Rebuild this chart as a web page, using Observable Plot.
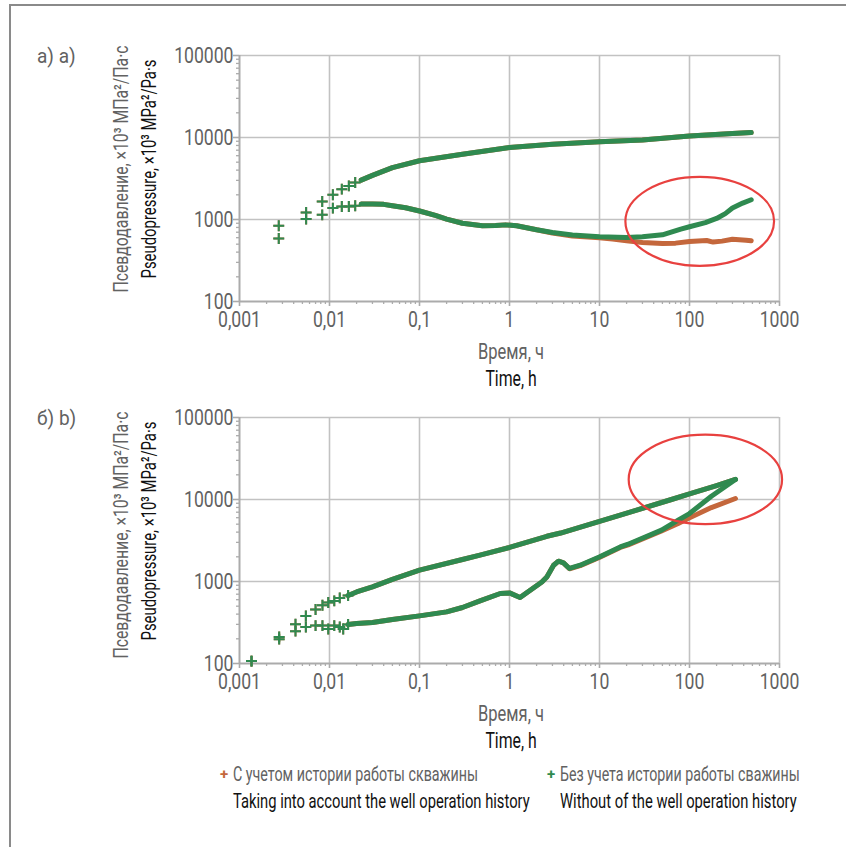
<!DOCTYPE html>
<html><head><meta charset="utf-8">
<script src="https://cdn.jsdelivr.net/npm/d3@7"></script>
<script src="https://cdn.jsdelivr.net/npm/@observablehq/plot@0.6"></script>
<style>
html,body{margin:0;padding:0;background:#fff;}
#fig{position:relative;width:846px;height:847px;overflow:hidden;background:#fff;font-family:Roboto,"Liberation Sans",sans-serif;}
.abs{position:absolute;white-space:nowrap;line-height:1;}
.gray{color:#626262;}
.blk{color:#111;}
#fig svg{position:absolute;left:0;}
.frameL{position:absolute;left:9px;top:5px;width:2px;height:842px;background:#8a8a8a;}
.frameT{position:absolute;left:9px;top:4px;width:837px;height:2px;background:#8a8a8a;}
</style></head>
<body><div id="fig"></div>
<script>
// ---------- axis ticks ----------
const xTickValues = [0.001, 0.01, 0.1, 1, 10, 100, 1000];
const xTickLabels = ["0,001", "0,01", "0,1", "1", "10", "100", "1000"];
const yTickValues = [100, 1000, 10000, 100000];
const yTickLabels = ["100", "1000", "10000", "100000"];

// ---------- panel a ----------
const aEarlyT      = [0.00273, 0.0055, 0.0083, 0.0109, 0.0137, 0.0164, 0.0193];
const aEarlyPress  = [838, 1216, 1660, 2000, 2345, 2570, 2825];
const aEarlyDeriv  = [586, 1012, 1140, 1377, 1442, 1442, 1469];

const aPressT = [0.0225, 0.03, 0.05, 0.1, 0.3, 1, 3, 10, 30, 100, 300, 485];
const aPress  = [3020, 3450, 4300, 5200, 6250, 7550, 8300, 8900, 9300, 10450, 11200, 11500];

const aDerivGreenT = [0.0225, 0.03, 0.04, 0.05, 0.07, 0.1, 0.15, 0.2, 0.3, 0.5, 0.7, 0.9, 1.2, 1.5, 2, 3, 5, 10, 20, 30, 50, 80, 100, 150, 200, 250, 300, 390, 485];
const aDerivGreen  = [1541, 1550, 1530, 1470, 1390, 1270, 1120, 1010, 900, 840, 845, 860, 840, 800, 750, 695, 646, 615, 604, 615, 650, 764, 815, 918, 1030, 1180, 1380, 1585, 1740];

const aDerivOrangeT = [0.0225, 0.03, 0.04, 0.05, 0.07, 0.1, 0.15, 0.2, 0.3, 0.5, 0.7, 0.9, 1.2, 1.5, 2, 3, 5, 10, 14, 20, 30, 50, 70, 100, 155, 183, 230, 300, 426, 485];
const aDerivOrange  = [1541, 1550, 1530, 1470, 1390, 1270, 1120, 1010, 900, 840, 845, 860, 840, 800, 750, 685, 630, 598, 577, 550, 525, 510, 515, 540, 555, 530, 545, 575, 560, 550];

// ---------- panel b ----------
const bEarlyPressT = [0.00136, 0.00276, 0.00419, 0.00546, 0.0070, 0.00835, 0.00969, 0.0113, 0.013, 0.0161];
const bEarlyPress  = [107, 211, 301, 380, 456, 514, 554, 580, 631, 675];
const bEarlyDerivT = [0.00136, 0.00276, 0.00419, 0.00546, 0.0070, 0.00835, 0.00969, 0.0113, 0.013, 0.0142, 0.0161];
const bEarlyDeriv  = [107, 198, 248, 279, 290, 290, 264, 290, 279, 264, 299];

const bPressT = [0.0161, 0.02, 0.03, 0.05, 0.1, 0.3, 0.47, 1, 2.6, 3.7, 10, 17, 63, 100, 200, 324];
const bPress  = [675, 745, 860, 1060, 1374, 1854, 2094, 2600, 3560, 3900, 5400, 6440, 10000, 11700, 14800, 17540];

const bDerivGreenT = [0.0161, 0.02, 0.03, 0.05, 0.1, 0.2, 0.3, 0.47, 0.79, 1, 1.31, 1.7, 2.29, 2.6, 3.09, 3.5, 3.98, 4.64, 6.1, 9.93, 17, 20.8, 48.9, 74.8, 100, 175, 324];
const bDerivGreen  = [299, 307, 316, 344, 381, 426, 482, 580, 714, 726, 638, 783, 988, 1138, 1580, 1770, 1688, 1442, 1580, 1994, 2642, 2850, 4226, 5600, 6740, 10970, 17540];

const bDerivOrangeT = [0.0161, 0.02, 0.03, 0.05, 0.1, 0.2, 0.3, 0.47, 0.79, 1, 1.31, 1.7, 2.29, 2.6, 3.09, 3.5, 3.98, 4.64, 6.1, 9.93, 17, 20.8, 48.9, 74.8, 100, 175, 324];
const bDerivOrange  = [299, 307, 316, 344, 381, 426, 482, 580, 714, 726, 638, 783, 988, 1138, 1580, 1770, 1688, 1430, 1560, 1960, 2600, 2800, 4150, 5095, 5970, 7980, 10280];

// ---------- annotations (red ellipses): centre (t, p) and half-size in decades ----------
const ellipseCenterT = [131.6, 152];
const ellipseCenterP = [937, 17340];
const ellipseHalfDecX = [0.826, 0.852];
const ellipseHalfDecY = [0.543, 0.545];

// ---------- texts ----------
const panelLabels = ["а) a)", "б) b)"];
const yTitleRu = "Псевдодавление, ×10³ МПа²/Па·с";
const yTitleEn = "Pseudopressure, ×10³ MPa²/Pa·s";
const xTitleRu = "Время, ч";
const xTitleEn = "Time, h";
const legendRu = ["С учетом истории работы скважины", "Без учета истории работы сважины"];
const legendEn = ["Taking into account the well operation history", "Without of the well operation history"];

const FONT = 'Roboto,"Liberation Sans",sans-serif';
const GREEN = "#2f8a50", ORANGE = "#c4673c", GRID = "#c2c2c2", AXIS = "#ababab", GRAY = "#626262", RED = "#e8413f";
const SQUEEZE = 0.8; // condensed look for tick labels

const minorX = [], minorY = [];
for (let e = -3; e < 3; e++) for (let k = 2; k <= 9; k++) minorX.push(k * 10 ** e);
for (let e = 2; e < 5; e++) for (let k = 2; k <= 9; k++) minorY.push(k * 10 ** e);

const rows = (T, P) => T.map((t, i) => ({t, p: P[i]}));

function ellipseMark(i) {
  return (index, scales) => {
    const tc = ellipseCenterT[i], pc = ellipseCenterP[i];
    const cx = scales.x(tc), cy = scales.y(pc);
    const rx = scales.x(tc * 10 ** ellipseHalfDecX[i]) - cx;
    const ry = cy - scales.y(pc * 10 ** ellipseHalfDecY[i]);
    return d3.create("svg:ellipse").attr("cx", cx).attr("cy", cy).attr("rx", rx).attr("ry", ry)
      .attr("fill", "none").attr("stroke", RED).attr("stroke-width", 2.2).node();
  };
}

function panel(d, i) {
  const lineOpts = (c) => ({x: "t", y: "p", stroke: c, strokeWidth: 5, curve: "linear"});
  const dotOpts = (c) => ({x: "t", y: "p", symbol: "plus", r: 3.6, stroke: c, strokeWidth: 2});
  return Plot.plot({
    width: 846, height: 360,
    marginLeft: 239, marginRight: 67, marginTop: 55, marginBottom: 59,
    x: {type: "log", domain: [0.001, 1000], axis: null},
    y: {type: "log", domain: [100, 100000], axis: null},
    style: {fontFamily: FONT, background: "transparent", overflow: "visible"},
    marks: [
      Plot.ruleX(xTickValues.slice(1), {stroke: GRID, strokeWidth: 1.6}),
      Plot.ruleY(yTickValues.slice(1), {stroke: GRID, strokeWidth: 1.6}),
      Plot.axisX(minorX, {tickSize: 3, stroke: AXIS, strokeWidth: 1.3, fill: "none", label: null}),
      Plot.axisY(minorY, {tickSize: 3, stroke: AXIS, strokeWidth: 1.3, fill: "none", label: null}),
      Plot.axisX(xTickValues, {tickSize: 5, stroke: AXIS, strokeWidth: 1.6, fill: "none", label: null}),
      Plot.axisY(yTickValues, {tickSize: 6, stroke: AXIS, strokeWidth: 1.6, fill: "none", label: null}),
      Plot.ruleY([100], {stroke: AXIS, strokeWidth: 2}),
      Plot.ruleX([0.001], {stroke: AXIS, strokeWidth: 2}),
      Plot.text(xTickLabels, {x: xTickValues, frameAnchor: "bottom", lineAnchor: "middle", dy: 18, text: (v) => v, fontSize: 22, fill: GRAY}),
      Plot.text(yTickLabels, {y: yTickValues, frameAnchor: "left", lineAnchor: "middle", dx: -6, textAnchor: "end", text: (v) => v, fontSize: 22, fill: GRAY}),
      // with well history (orange)
      Plot.line(rows(d.pressT, d.press), lineOpts(ORANGE)),
      Plot.line(rows(d.derivOT, d.derivO), lineOpts(ORANGE)),
      Plot.dot(rows(d.earlyPT, d.earlyP), dotOpts(ORANGE)),
      Plot.dot(rows(d.earlyDT, d.earlyD), dotOpts(ORANGE)),
      // without well history (green)
      Plot.line(rows(d.pressT, d.press), lineOpts(GREEN)),
      Plot.line(rows(d.derivGT, d.derivG), lineOpts(GREEN)),
      Plot.dot(rows(d.earlyPT, d.earlyP), dotOpts(GREEN)),
      Plot.dot(rows(d.earlyDT, d.earlyD), dotOpts(GREEN)),
      ellipseMark(i)
    ]
  });
}

const panels = [
  {pressT: aPressT, press: aPress, derivGT: aDerivGreenT, derivG: aDerivGreen, derivOT: aDerivOrangeT, derivO: aDerivOrange,
   earlyPT: aEarlyT, earlyP: aEarlyPress, earlyDT: aEarlyT, earlyD: aEarlyDeriv},
  {pressT: bPressT, press: bPress, derivGT: bDerivGreenT, derivG: bDerivGreen, derivOT: bDerivOrangeT, derivO: bDerivOrange,
   earlyPT: bEarlyPressT, earlyP: bEarlyPress, earlyDT: bEarlyDerivT, earlyD: bEarlyDeriv}
];
const panelTop = [0, 362];

const fig = document.getElementById("fig");
// anchor: "l" left-middle, "c" centre, "r" rotated centre; width: target rendered width (condensed look)
function addText(txt, color, anchor, x, y, size, width, extra) {
  const el = document.createElement("div");
  el.className = "abs " + color;
  el.textContent = txt;
  el.style.left = x + "px";
  el.style.top = y + "px";
  el.style.fontSize = size + "px";
  if (extra) Object.assign(el.style, extra);
  fig.appendChild(el);
  const s = width ? width / el.offsetWidth : 1;
  if (anchor === "l") { el.style.transformOrigin = "0 50%"; el.style.transform = `translate(0,-50%) scaleX(${s})`; }
  else if (anchor === "c") el.style.transform = `translate(-50%,-50%) scaleX(${s})`;
  else el.style.transform = `translate(-50%,-50%) rotate(-90deg) scaleX(${s})`;
  return el;
}

panels.forEach((d, i) => {
  const svg = panel(d, i);
  svg.style.top = panelTop[i] + "px";
  fig.appendChild(svg);
  svg.querySelectorAll("text").forEach((t) => {
    const w = t.getComputedTextLength();
    if (w > 0) { t.setAttribute("textLength", w * SQUEEZE); t.setAttribute("lengthAdjust", "spacingAndGlyphs"); }
  });
  const o = panelTop[i];
  addText(panelLabels[i], "gray", "l", 37, 56 + o, 21, 39);
  addText(yTitleRu, "gray", "r", 121, 169 + o + (i ? 4 : 0), 20, 247);
  addText(yTitleEn, "blk", "r", 149, 169 + o, 21, 219);
  addText(xTitleRu, "gray", "c", 511, 352 + o, 22, 66);
  addText(xTitleEn, "blk", "c", 511, 379 + o, 22, 51);
});

// legend
const legendX = [233, 560];
const legendColors = [ORANGE, GREEN];
const legendRuW = [245, 240], legendEnW = [297, 237];
legendX.forEach((x, i) => {
  addText("+", "", "c", x - 9, 774, 15, null, {color: legendColors[i], fontWeight: "bold"});
  addText(legendRu[i], "gray", "l", x, 774, 20, legendRuW[i]);
  addText(legendEn[i], "blk", "l", x, 801, 20, legendEnW[i]);
});

const fl = document.createElement("div"); fl.className = "frameL"; fig.appendChild(fl);
const ft = document.createElement("div"); ft.className = "frameT"; fig.appendChild(ft);
</script></body></html>
